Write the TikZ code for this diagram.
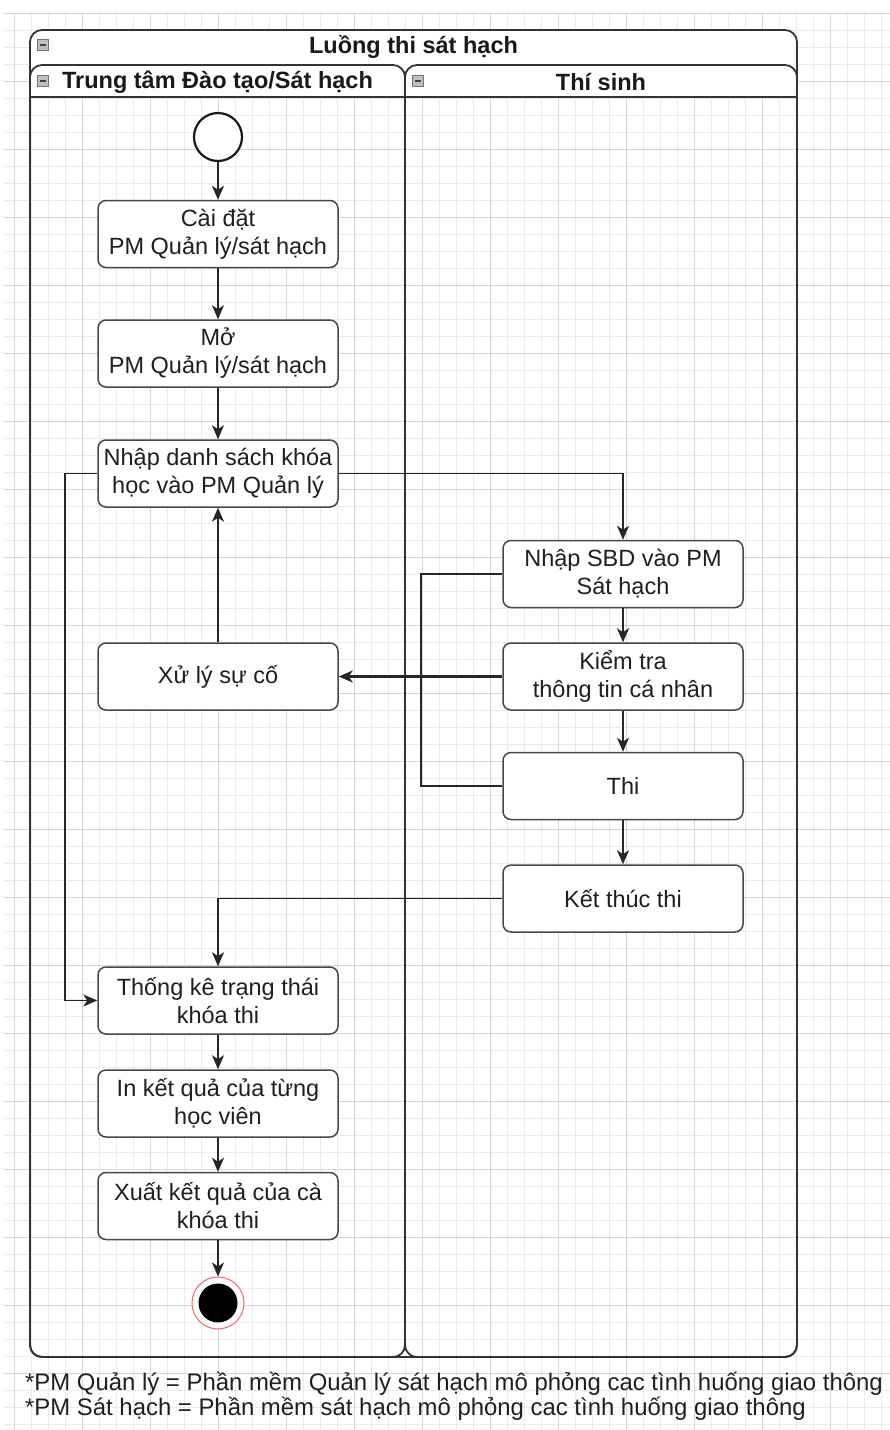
\documentclass[tikz,border=0pt]{standalone}
\usepackage{fontspec}
\setmainfont{Liberation Sans}
\usetikzlibrary{arrows.meta}
\begin{document}
\begin{tikzpicture}[x=1pt,y=-1pt,
  gridminor/.style={draw=black!8, line width=0.8pt},
  gridmajor/.style={draw=black!16, line width=0.9pt},
  pool/.style={draw=black!80, line width=1.8pt, rounded corners=12pt},
  act/.style={draw=black!72, line width=1.5pt, rounded corners=8pt, fill=white,
    minimum width=240pt, minimum height=67pt, align=center, inner sep=1pt,
    text=black!88, font=\fontsize{23.5}{28}\selectfont},
  hdr/.style={text=black!90, font=\fontsize{23.5}{28}\selectfont\bfseries, inner sep=0pt},
  foot/.style={text=black!88, font=\fontsize{23.9}{25}\selectfont, inner sep=0pt, anchor=west},
  icon/.style={draw=black!55, fill=black!25, minimum size=11pt, inner sep=0pt, line width=0.8pt,
    path picture={\draw[line width=1.6pt, black!75] ([xshift=2.5pt]path picture bounding box.west) -- ([xshift=-2.5pt]path picture bounding box.east);}},
  flow/.style={draw=black!85, line width=1.6pt, -{Stealth[length=14pt,width=12pt,inset=4pt]}},
  boldflow/.style={flow, line width=2.4pt},
  link/.style={draw=black!85, line width=1.6pt}
]
\useasboundingbox (0,0) rectangle (890,1430);
% background grid
\foreach \k in {0,...,51} {\draw[gridminor] ({14+17*\k},13) -- ({14+17*\k},1430);}
\foreach \k in {0,...,83} {\draw[gridminor] (4,{13+17*\k}) -- (890,{13+17*\k});}
\foreach \k in {0,...,12} {\draw[gridmajor] ({14+68*\k},13) -- ({14+68*\k},1430);}
\foreach \k in {0,...,20} {\draw[gridmajor] (4,{13+68*\k}) -- (890,{13+68*\k});}
% pool and lanes
\fill[white, rounded corners=12pt] (30,30) rectangle (797,97);
\fill[white] (30,60) rectangle (797,97);
\draw[pool] (30,30) rectangle (797,1357);
\draw[pool] (30,65) rectangle (405,1357);
\draw[pool] (405,65) rectangle (797,1357);
\draw[draw=black!80, line width=1.8pt] (30,97) -- (797,97);
\node[icon] (ic1) at (43,45) {};
\node[icon] (ic2) at (43,81) {};
\node[icon] (ic3) at (418,81) {};
\node[hdr] (title) at (413.5,47) {Luồng thi sát hạch};
\node[hdr] (lane1) at (217.5,82) {Trung tâm Đào tạo/Sát hạch};
\node[hdr] (lane2) at (601,82) {Thí sinh};
% nodes
\node[circle, draw=black!90, line width=2.2pt, fill=white, minimum size=48pt, inner sep=0pt] (start) at (218,137) {};
\node[act] (caidat) at (218,234) {Cài đặt\\PM Quản lý/sát hạch};
\node[act] (mo) at (218,353.5) {Mở\\PM Quản lý/sát hạch};
\node[act] (nhapds) at (218,473.5) {Nhập danh sách khóa\\học vào PM Quản lý};
\node[act] (xuly) at (218,676.5) {Xử lý sự cố};
\node[act] (thongke) at (218,1000.5) {Thống kê trạng thái\\khóa thi};
\node[act] (inkq) at (218,1103.5) {In kết quả của từng\\học viên};
\node[act] (xuat) at (218,1206) {Xuất kết quả của cà\\khóa thi};
\node[act] (nhapsbd) at (623,574) {Nhập SBD vào PM\\Sát hạch};
\node[act] (kiemtra) at (623,676.5) {Kiểm tra\\thông tin cá nhân};
\node[act] (thi) at (623,786) {Thi};
\node[act] (ketthuc) at (623,898.5) {Kết thúc thi};
\node[circle, draw=red!60, line width=1pt, fill=white, minimum size=52pt, inner sep=0pt] (endring) at (218,1303) {};
\node[circle, fill=black, minimum size=39pt, inner sep=0pt] (endn) at (218,1303) {};
% connectors
\coordinate (lb) at (65,473.5);
\coordinate (rb) at (421,786);
\draw[flow] (start) -- (caidat);
\draw[flow] (caidat) -- (mo);
\draw[flow] (mo) -- (nhapds);
\draw[flow] (nhapds.east) -| (nhapsbd.north);
\draw[flow] (nhapds.west) -- (lb) |- (thongke.west);
\draw[boldflow] (nhapsbd) -- (kiemtra);
\draw[boldflow] (kiemtra.west) -- (xuly.east);
\draw[flow] (xuly) -- (nhapds);
\draw[flow] (kiemtra) -- (thi);
\draw[flow] (thi) -- (ketthuc);
\draw[link] (thi.west) -- (rb) |- (nhapsbd.west);
\draw[flow] (ketthuc.west) -| (thongke.north);
\draw[flow] (thongke) -- (inkq);
\draw[flow] (inkq) -- (xuat);
\draw[flow] (xuat) -- (endring);
% footnotes
\node[foot] (fn1) at (25,1384) {*PM Quản lý = Phần mềm Quản lý sát hạch mô phỏng cac tình huống giao thông};
\node[foot] (fn2) at (25,1409) {*PM Sát hạch = Phần mềm sát hạch mô phỏng cac tình huống giao thông};
\end{tikzpicture}
\end{document}
